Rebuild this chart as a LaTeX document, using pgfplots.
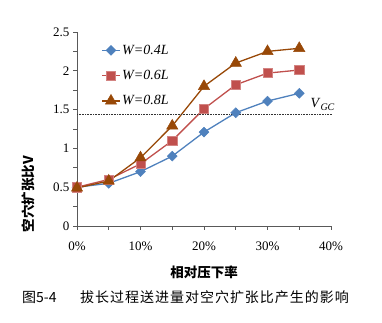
\documentclass[border=0pt]{standalone}
\usepackage{fontspec}
\setmainfont{Liberation Serif}
\newfontfamily\cjk{Noto Sans CJK SC}
\newfontfamily\cjkcap[LetterSpace=7]{Noto Sans CJK SC}
\usepackage{pgfplots}
\pgfplotsset{compat=1.18}
\definecolor{cA}{HTML}{4F81BD}
\definecolor{cB}{HTML}{C0504D}
\definecolor{cC}{HTML}{984807}
\begin{document}
\begin{tikzpicture}
\useasboundingbox (0pt,0pt) rectangle (382pt,323pt);
\begin{axis}[
  at={(77pt,97pt)}, anchor=south west,
  scale only axis, width=254pt, height=194pt,
  xmin=0, xmax=40, ymin=0, ymax=2.5,
  axis x line*=bottom, axis y line*=left,
  axis line style={gray!70!black, line width=0.6pt},
  xtick={0,10,20,30,40}, xticklabels={0\%,10\%,20\%,30\%,40\%},
  minor xtick={5,15,25,35},
  ytick={0,0.5,1,1.5,2,2.5},
  minor ytick={0.25,0.75,1.25,1.75,2.25},
  tick align=outside,
  major tick length=4pt, minor tick length=4pt,
  every tick/.style={gray!70!black, line width=0.6pt},
  tick label style={font=\fontsize{13}{14}\selectfont},
  x tick label style={yshift=-8pt},
  /pgf/number format/assume math mode=true,
  clip=false,
  legend style={at={(0.085,0.955)}, anchor=north west, draw=none, fill=none,
    font=\fontsize{14}{15}\selectfont\itshape, row sep=10.5pt,
    legend cell align=left},
]
\addplot[cA, line width=1.3pt, mark=square*, mark size=3.5pt, mark options={rotate=45, fill=cA, draw=cA, line width=0.5pt}]
  coordinates {(0,0.50) (5,0.55) (10,0.70) (15,0.90) (20,1.21) (25,1.46) (30,1.61) (35,1.71)};
\addlegendentry{W=0.4L}
\addplot[cB, line width=1.3pt, mark=square*, mark size=4.6pt, mark options={fill=cB, draw=cB!70!white, line width=0.5pt}]
  coordinates {(0,0.50) (5,0.60) (10,0.80) (15,1.10) (20,1.51) (25,1.82) (30,1.97) (35,2.01)};
\addlegendentry{W=0.6L}
\addplot[cC, line width=1.3pt, mark=triangle*, mark size=6.5pt, mark options={fill=cC, draw=cC, line width=0.5pt}]
  coordinates {(0,0.49) (5,0.58) (10,0.88) (15,1.29) (20,1.80) (25,2.10) (30,2.25) (35,2.29)};
\addlegendentry{W=0.8L}
\addplot[gray!40!black, densely dotted, line width=0.6pt, forget plot]
  coordinates {(0,1.44) (40.3,1.44)};
\node[anchor=south west, font=\fontsize{14}{15}\selectfont, inner sep=1pt] at (axis cs:36.6,1.47) {\textit{V}\raisebox{-0.5ex}{\fontsize{10}{11}\selectfont\textit{GC}}};
\end{axis}
\node[font=\cjk\bfseries\fontsize{13.5}{15}\selectfont] at (204pt,51pt) {相对压下率};
\node[font=\cjk\bfseries\fontsize{13.5}{15}\selectfont, rotate=90] at (28pt,129pt) {空穴扩张比V};
\node[font=\cjk\fontsize{14}{15}\selectfont, anchor=west, inner sep=0pt] at (22pt,26pt) {图5-4};
\node[font=\cjkcap\fontsize{14}{15}\selectfont, anchor=west, inner sep=0pt] at (80pt,26pt) {拔长过程送进量对空穴扩张比产生的影响};
\end{tikzpicture}
\end{document}
